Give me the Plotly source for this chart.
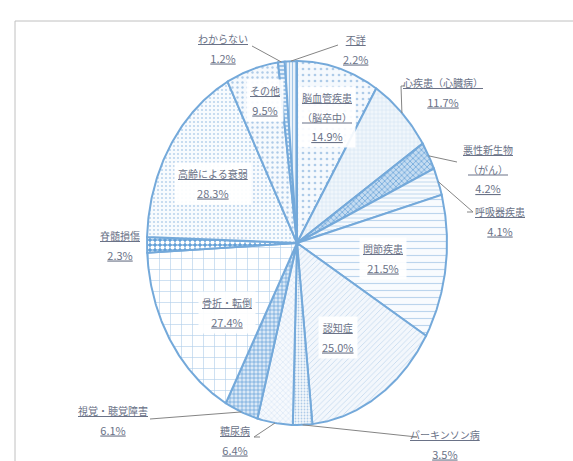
import numpy as np
import plotly.graph_objects as go

# Reasons for needing care (multiple answers, %), clockwise from 12 o'clock
categories = [
    "脳血管疾患（脳卒中）", "心疾患（心臓病）", "悪性新生物（がん）", "呼吸器疾患",
    "関節疾患", "認知症", "パーキンソン病", "糖尿病", "視覚・聴覚障害",
    "骨折・転倒", "脊髄損傷", "高齢による衰弱", "その他", "わからない", "不詳",
]
values = [14.9, 11.7, 4.2, 4.1, 21.5, 25.0, 3.5, 6.4, 6.1, 27.4, 2.3, 28.3, 9.5, 1.2, 2.2]
label_lines = [
    ["脳血管疾患", "（脳卒中）"], ["心疾患（心臓病）"], ["悪性新生物", "（がん）"], ["呼吸器疾患"],
    ["関節疾患"], ["認知症"], ["パーキンソン病"], ["糖尿病"], ["視覚・聴覚障害"],
    ["骨折・転倒"], ["脊髄損傷"], ["高齢による衰弱"], ["その他"], ["わからない"], ["不詳"],
]

# ---- layout (pixel space) ----
W, H = 573, 461
CX, CY, RX, RY = 297, 243, 150, 182
EDGE = "#74a9da"
TEXT = "#6a7287"
LEADER = "#858585"

# per-slice fill patterns: (shape, fg, bg, size, solidity)
patterns = [
    (".", "#aecbe8", "#f5f9fd", 6, 0.16),
    ("+", "#c0d7ee", "#f0f6fb", 4, 0.16),
    ("x", "#5b9bd5", "#c5dcf1", 4, 0.3),
    ("-", "#b3cfea", "#f7fafd", 4, 0.2),
    ("-", "#bcd5ed", "#f8fbfe", 7, 0.16),
    ("/", "#bdd5ed", "#f3f7fc", 4, 0.18),
    (".", "#aecbe8", "#f4f8fc", 3, 0.28),
    ("x", "#bcd5ed", "#f6f9fd", 4, 0.16),
    ("+", "#5597d5", "#dae8f6", 4, 0.28),
    ("+", "#b2cfea", "#ffffff", 11, 0.11),
    (".", "#ffffff", "#62a0d8", 5, 0.55),
    (".", "#bcd5ed", "#f8fbfe", 4, 0.22),
    (".", "#aecbe8", "#f5f9fd", 5, 0.18),
    ("-", "#6aa4d9", "#e5f0fa", 4, 0.3),
    ("|", "#97bfe5", "#eaf2fa", 3, 0.3),
]

# label block centres, optional leader anchors (label side), white box flag
label_pos = [
    (327, 117, None, True),
    (443, 92, [(405, 86), (401, 86)], False),
    (488, 169, [(457, 162)], False),
    (500, 221, [(467, 212), (473, 212)], False),
    (383, 258, None, True),
    (338, 337, None, True),
    (445, 444, [(412, 437), (417, 437)], False),
    (235, 440, [(260, 437), (254, 437)], False),
    (113, 420, [(150, 419)], False),
    (227, 312, None, True),
    (120, 245, None, False),
    (213, 183, None, True),
    (265, 100, None, True),
    (223, 48, [(252, 46)], False),
    (355, 49, [(338, 45)], False),
]

total = sum(values)
cum = np.concatenate([[0.0], np.cumsum(values)]) / total * 2 * np.pi


def ellipse_point(theta):
    return CX + RX * np.sin(theta), CY - RY * np.cos(theta)


fig = go.Figure()

for i, (name, v) in enumerate(zip(categories, values)):
    t0, t1 = cum[i], cum[i + 1]
    th = np.linspace(t0, t1, max(8, int((t1 - t0) * 120)))
    ax, ay = ellipse_point(th)
    xs = np.concatenate([[CX], ax, [CX]])
    ys = np.concatenate([[CY], ay, [CY]])
    shape, fg, bg, size, sol = patterns[i]
    fig.add_trace(go.Scatter(
        x=xs, y=ys, mode="lines", fill="toself",
        fillcolor=bg,
        fillpattern=dict(shape=shape, fgcolor=fg, bgcolor=bg, size=size,
                         solidity=sol, fillmode="replace"),
        line=dict(color=EDGE, width=2),
        name=name, showlegend=False, hoverinfo="skip",
    ))

# leader lines from slice edge to label
for i, (lx, ly, anchors, boxed) in enumerate(label_pos):
    if not anchors:
        continue
    mid = (cum[i] + cum[i + 1]) / 2
    px, py = ellipse_point(mid)
    pts = [(px, py)] + (anchors[::-1] if len(anchors) > 1 else anchors)
    fig.add_trace(go.Scatter(
        x=[p[0] for p in pts], y=[p[1] for p in pts], mode="lines",
        line=dict(color=LEADER, width=1), showlegend=False, hoverinfo="skip",
    ))

# labels: name line(s) + percentage
annotations = []
for i, (lx, ly, anchors, boxed) in enumerate(label_pos):
    parts = [f"<span style='font-size:10px'>{s}</span>" for s in label_lines[i]]
    parts.append(f"<span style='font-size:11px'>{values[i]:.1f}%</span>")
    annotations.append(dict(
        x=lx, y=ly, xref="x", yref="y", text="<br>".join(parts), showarrow=False,
        xanchor="center", yanchor="middle", align="center",
        font=dict(family="Noto Sans CJK JP", size=15, color=TEXT, lineposition="under"),
        bgcolor="rgba(255,255,255,0.92)" if boxed else None,
        borderpad=3,
    ))

fig.update_layout(
    width=W, height=H,
    margin=dict(l=0, r=0, t=0, b=0),
    paper_bgcolor="white", plot_bgcolor="white",
    xaxis=dict(range=[0, W], visible=False, fixedrange=True),
    yaxis=dict(range=[H, 0], visible=False, fixedrange=True),
    annotations=annotations,
    shapes=[dict(type="rect", xref="x", yref="y", x0=15, y0=21, x1=W + 20, y1=H + 20,
                 line=dict(color="#c0c0c0", width=1), layer="below")],
)

fig.write_html("out.html")
